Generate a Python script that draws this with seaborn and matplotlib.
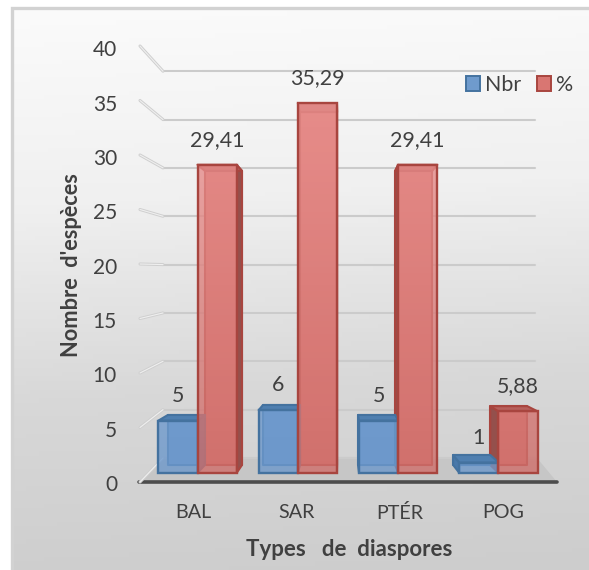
import numpy as np
import pandas as pd
import matplotlib
matplotlib.use("Agg")
import matplotlib.pyplot as plt
from matplotlib.colors import LinearSegmentedColormap, to_rgba
from matplotlib.patches import Polygon, Patch, Rectangle
import seaborn as sns

# Chart data
categories = ["BAL", "SAR", "PTÉR", "POG"]
nbr_values = [5, 6, 5, 1]
pct_values = [29.41, 35.29, 29.41, 5.88]
nbr_labels = ["5", "6", "5", "1"]
pct_labels = ["29,41", "35,29", "29,41", "5,88"]
y_ticks = [0, 5, 10, 15, 20, 25, 30, 35, 40]

# Figure geometry, in pixels
W, H = 589, 570
X0, X_STEP = 197.5, 100.33      # pixel of category 0, pixels per category
Y0, Y_SCALE = 473.0, 10.48      # bar base and pixels per unit on the front plane
BACK_Y0, BACK_SCALE = 465.0, 10.0   # the same on the bars' rear plane
VANISH_X, SHRINK = 340.0, 0.052     # horizontal convergence of the rear plane

BLUE = "#6f9bcd"
BLUE_EDGE = "#44729f"
BLUE_TOP = "#4f7fb0"
BLUE_SIDE = "#4a79aa"
RED = "#d97672"
RED_EDGE = "#a8453f"
RED_TOP = "#b7605c"
RED_SIDE = "#94504c"
TEXT = "#404040"

sns.set_theme(style="white")
plt.rcParams["font.family"] = ["Lato", "DejaVu Sans"]

fig = plt.figure(figsize=(W / 100, H / 100), dpi=100)
fig.patch.set_facecolor("white")
ax = fig.add_axes([0, 0, 1, 1])


def px_x(p):
    return (p - X0) / X_STEP


def px_y(p):
    return (Y0 - p) / Y_SCALE


XLIM = (px_x(0), px_x(W))
YLIM = (px_y(H), px_y(0))


def reset_limits():
    ax.set_xlim(*XLIM)
    ax.set_ylim(*YLIM)


df = pd.DataFrame({
    "cat": categories * 2,
    "val": nbr_values + pct_values,
    "serie": ["Nbr"] * 4 + ["%"] * 4,
})
sns.barplot(data=df, x="cat", y="val", hue="serie", order=categories,
            hue_order=["Nbr", "%"], palette=[BLUE, RED], width=0.78,
            gap=0, legend=False, saturation=1, ax=ax, zorder=10)
reset_limits()
ax.axis("off")

n = len(categories)
bars = [p for p in ax.patches if isinstance(p, Rectangle)][:2 * n]
blue_bars, red_bars = bars[:n], bars[n:]

# Chart area background, darkening towards the bottom
FRAME_L, FRAME_T = 11.5, 7.5
yy, xx = np.mgrid[0:1:128j, 0:1:128j]
bg_map = LinearSegmentedColormap.from_list("bg", ["#fbfbfb", "#f0f0f0", "#d8d8d8", "#cdcdcd"])
ax.imshow(0.95 * yy + 0.05 * xx, cmap=bg_map, vmin=0, vmax=1, origin="upper", aspect="auto",
          extent=(px_x(FRAME_L), XLIM[1], YLIM[0], px_y(FRAME_T)), zorder=0)
ax.plot([px_x(FRAME_L), px_x(FRAME_L), XLIM[1]], [YLIM[0], px_y(FRAME_T), px_y(FRAME_T)],
        color="#d2d2d2", lw=2.4, zorder=1, solid_joinstyle="miter")


def back_y(v):
    return px_y(458 - 9.67 * v)


def wall_y(v):
    return px_y(482 - 10.9 * v)


# Floor of the plot
ax.add_patch(Polygon([(px_x(163), back_y(0)), (px_x(537), back_y(0)),
                      (px_x(557), px_y(482)), (px_x(140), px_y(482))],
                     facecolor="#c6c6c6", edgecolor="none", zorder=1))
ax.plot([px_x(139), px_x(557)], [px_y(482)] * 2, color="#4d4d4d", lw=2.6,
        solid_capstyle="round", zorder=2)

# Gridlines on the back wall and the receding left wall
for v in y_ticks:
    ax.plot([px_x(163), px_x(535)], [back_y(v)] * 2, color="#cbcbcb", lw=1.5, zorder=2)
    ax.plot([px_x(140), px_x(163)], [wall_y(v), back_y(v)], color="#cfcfcf", lw=2.2,
            zorder=2, solid_capstyle="round")
    ax.plot([px_x(140), px_x(163)], [wall_y(v), back_y(v)], color="#efefef", lw=0.8,
            zorder=2.1, solid_capstyle="round")


def rear_pt(xp, v):
    """Rear-plane corner for a front corner at pixel x and value v."""
    xr = xp + (VANISH_X - xp) * SHRINK
    return px_x(xr), px_y(BACK_Y0 - BACK_SCALE * v)


def draw_box(patch, face, edge, top_col, side_col, z):
    """Rear face, visible side and cap of one bar."""
    xa = patch.get_x()
    xb = xa + patch.get_width()
    xa_p, xb_p = X0 + xa * X_STEP, X0 + xb * X_STEP
    h = patch.get_height()
    bl, br = rear_pt(xa_p, 0), rear_pt(xb_p, 0)
    tl, tr = rear_pt(xa_p, h), rear_pt(xb_p, h)
    kw = dict(edgecolor=edge, linewidth=1.5, joinstyle="round")
    ax.add_patch(Polygon([bl, br, tr, tl], facecolor=face, zorder=z, **kw))
    if bl[0] < xa:
        ax.add_patch(Polygon([(xa, 0), bl, tl, (xa, h)], facecolor=side_col,
                             zorder=z + 0.1, **kw))
    if br[0] > xb:
        ax.add_patch(Polygon([(xb, 0), br, tr, (xb, h)], facecolor=side_col,
                             zorder=z + 0.1, **kw))
    ax.add_patch(Polygon([(xa, h), (xb, h), tr, tl], facecolor=top_col,
                         zorder=z + 0.2, **kw))


def draw_front(patch, top_col, bottom_col, edge, z):
    """Translucent front face, lighter towards the top of the value range."""
    patch.set_visible(False)
    xa = patch.get_x()
    cmap = LinearSegmentedColormap.from_list("front", [to_rgba(top_col, 0.8),
                                                       to_rgba(bottom_col, 0.8)])
    img = ax.imshow(np.linspace(0, 1, 64).reshape(-1, 1), cmap=cmap, vmin=0, vmax=1,
                    origin="upper", aspect="auto",
                    extent=(xa, xa + patch.get_width(), 0, 37), zorder=z)
    outline = Polygon(patch.get_corners(), closed=True, fill=False, edgecolor=edge,
                      linewidth=1.7, zorder=z + 0.1)
    ax.add_patch(outline)
    img.set_clip_path(Polygon(patch.get_corners(), closed=True,
                              transform=ax.transData))


# Layering: red rear parts, complete blue boxes, then red fronts
for p in red_bars:
    draw_box(p, RED, RED_EDGE, RED_TOP, RED_SIDE, 4)
for p in blue_bars:
    draw_box(p, BLUE, BLUE_EDGE, BLUE_TOP, BLUE_SIDE, 6)
    draw_front(p, "#78a4d6", "#6d98cb", BLUE_EDGE, 7)
for p in red_bars:
    draw_front(p, "#ec9492", "#cf6f6b", RED_EDGE, 9)
reset_limits()

# Value labels
LABEL_FS = 15.4
LABEL_GAP = 25 / Y_SCALE
for p, s in zip(blue_bars + red_bars, nbr_labels + pct_labels):
    ax.text(p.get_x() + p.get_width() / 2, p.get_height() + LABEL_GAP, s,
            fontsize=LABEL_FS, color=TEXT, ha="center", va="center", zorder=12)

# Axis tick labels
for v in y_ticks:
    ax.text(px_x(117), px_y(485 - 10.87 * v), str(v), fontsize=15, color=TEXT,
            ha="right", va="center", zorder=12)
for i, c in enumerate(categories):
    xp = X0 + i * X_STEP
    ax.text(px_x(xp + (xp - VANISH_X) * 0.03), px_y(513), c, fontsize=14.2,
            color=TEXT, ha="center", va="center", zorder=12)

# Axis titles
ax.text(px_x(72), px_y(265), "Nombre  d'espèces", rotation=90, fontsize=15.7,
        fontweight="bold", color=TEXT, ha="center", va="center", zorder=12)
ax.text(px_x(349), px_y(550), "Types   de  diaspores", fontsize=16,
        fontweight="bold", color=TEXT, ha="center", va="center", zorder=12)

# Legend
handles = [Patch(facecolor=BLUE, edgecolor=BLUE_EDGE, linewidth=1.4, label="Nbr"),
           Patch(facecolor=RED, edgecolor=RED_EDGE, linewidth=1.4, label="%")]
leg = ax.legend(handles=handles, ncol=2, frameon=False, fontsize=15.4,
                handlelength=0.66, handleheight=0.72, handletextpad=0.24,
                columnspacing=0.72, borderaxespad=0, borderpad=0,
                loc="center left", bbox_to_anchor=(466 / W, 1 - 85 / H),
                labelcolor=TEXT)
leg.set_zorder(12)

fig.savefig("out.png", dpi=100)
